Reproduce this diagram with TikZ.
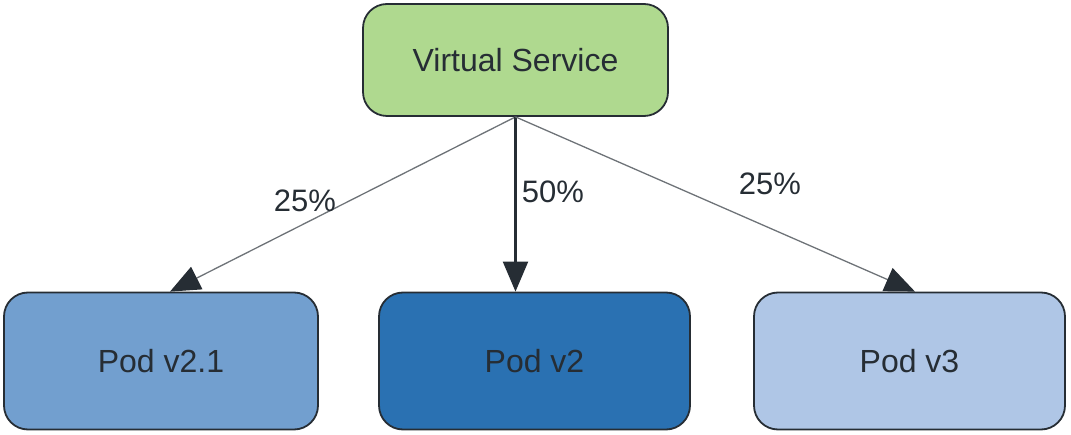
\documentclass[tikz,border=0pt]{standalone}
\usepackage{fontspec}
\setmainfont{Liberation Sans}
\usetikzlibrary{arrows.meta,calc}
\definecolor{vsgreen}{HTML}{AFD98F}
\definecolor{podA}{HTML}{729FCF}
\definecolor{podB}{HTML}{2A71B2}
\definecolor{podC}{HTML}{AFC6E6}
\definecolor{inkc}{HTML}{262D34}
\definecolor{greyline}{HTML}{6E7378}
\begin{document}
\begin{tikzpicture}[x=1pt,y=-1pt,
  box/.style={draw=inkc,line width=1.8pt,rounded corners=24pt,inner sep=0pt,
    text=inkc,font=\fontsize{32}{38}\selectfont},
  pct/.style={text=inkc,font=\fontsize{31}{36}\selectfont,inner sep=0pt},
  tip/.style={-{Triangle[length=30pt,width=25pt,color=inkc]}},
  side/.style={tip,draw=greyline,line width=1.3pt},
  mid/.style={tip,draw=inkc,line width=2.2pt}]
\useasboundingbox (0,0) rectangle (1071,435);
\node[box,fill=vsgreen,minimum width=305pt,minimum height=112pt] (vs) at (515.5,60) {Virtual Service};
\node[box,fill=podA,minimum width=314pt,minimum height=137pt] (p1) at (161,361) {Pod v2.1};
\node[box,fill=podB,minimum width=311pt,minimum height=137pt] (p2) at (534.5,361) {Pod v2};
\node[box,fill=podC,minimum width=311pt,minimum height=137pt] (p3) at (909.5,361) {Pod v3};
\coordinate (e1) at ($(p1.north)+(9,0)$);
\coordinate (e3) at ($(p3.north)+(5.5,0)$);
\draw[side] (vs.south) -- (e1);
\draw[mid] (vs.south) -- (vs.south |- p2.north);
\draw[side] (vs.south) -- (e3);
\node[pct] (l1) at (305,201) {25\%};
\node[pct] (l2) at (553,192) {50\%};
\node[pct] (l3) at (770,184) {25\%};
\end{tikzpicture}
\end{document}
